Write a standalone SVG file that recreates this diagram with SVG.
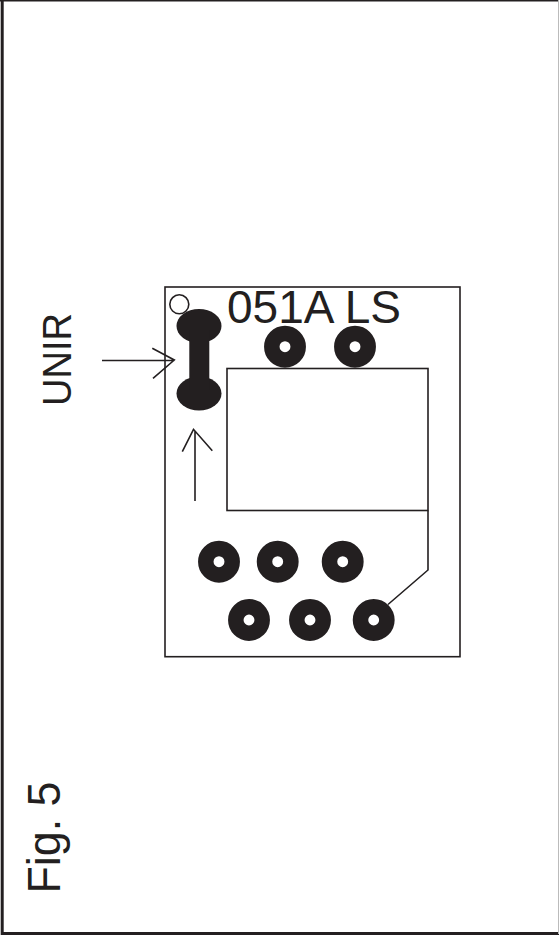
<svg xmlns="http://www.w3.org/2000/svg" width="559" height="944" viewBox="0 0 559 944">
<style>
.ln{fill:none;stroke:#231f20;stroke-width:1.6}
.pad{fill:none;stroke:#231f20;stroke-width:15.5}
.blk{fill:#231f20}
.t{font-family:"Liberation Sans",Arial,sans-serif;fill:#231f20}
</style>
<rect width="559" height="944" fill="#fff"/>
<g id="frame">
<path d="M0 0.7H559" fill="none" stroke="#231f20" stroke-width="1.5"/>
<path d="M2.2 0V933.5H559" fill="none" stroke="#231f20" stroke-width="3"/>
<path d="M558.5 0V934" fill="none" stroke="#bbb" stroke-width="1"/>
</g>
<g id="board"><rect class="ln" x="165" y="287" width="295" height="369.7"/></g>
<g id="chip"><rect class="ln" x="227" y="368.5" width="201" height="142"/></g>
<g id="marker"><circle class="ln" cx="179.3" cy="304.3" r="9.5"/></g>
<g id="jumper">
<ellipse class="blk" cx="199" cy="326" rx="22.5" ry="17"/>
<ellipse class="blk" cx="199" cy="393.5" rx="22.5" ry="17"/>
<rect class="blk" x="189.3" y="330" width="20" height="60"/>
</g>
<g id="pad-t1"><circle class="pad" cx="285" cy="346.7" r="13.2"/></g>
<g id="pad-t2"><circle class="pad" cx="355" cy="346.7" r="13.2"/></g>
<g id="pad-m1"><circle class="pad" cx="219" cy="561.7" r="13.2"/></g>
<g id="pad-m2"><circle class="pad" cx="277.7" cy="561.7" r="13.2"/></g>
<g id="pad-m3"><circle class="pad" cx="342.7" cy="561.7" r="13.2"/></g>
<g id="pad-b1"><circle class="pad" cx="249" cy="620" r="13.2"/></g>
<g id="pad-b2"><circle class="pad" cx="310" cy="620" r="13.2"/></g>
<g id="pad-b3"><circle class="pad" cx="373.7" cy="620" r="13.2"/></g>
<g id="connectors">
<path class="ln" d="M428 510.5V570L388 604.5"/>
<path class="ln" d="M102 360.5H174.3M152.3 348.3L174.3 360L153 378.3"/>
<path class="ln" d="M195 501V431M182.3 451.7L193.5 429.3L212.3 450.7"/>
</g>
<g id="labels">
<text class="t" x="227" y="323" font-size="46">051A LS</text>
<text class="t" font-size="40" transform="translate(71 406) rotate(-90)" textLength="93" lengthAdjust="spacingAndGlyphs">UNIR</text>
<text class="t" font-size="46" transform="translate(60 893.5) rotate(-90)" textLength="112" lengthAdjust="spacingAndGlyphs">Fig. 5</text>
</g>
</svg>
